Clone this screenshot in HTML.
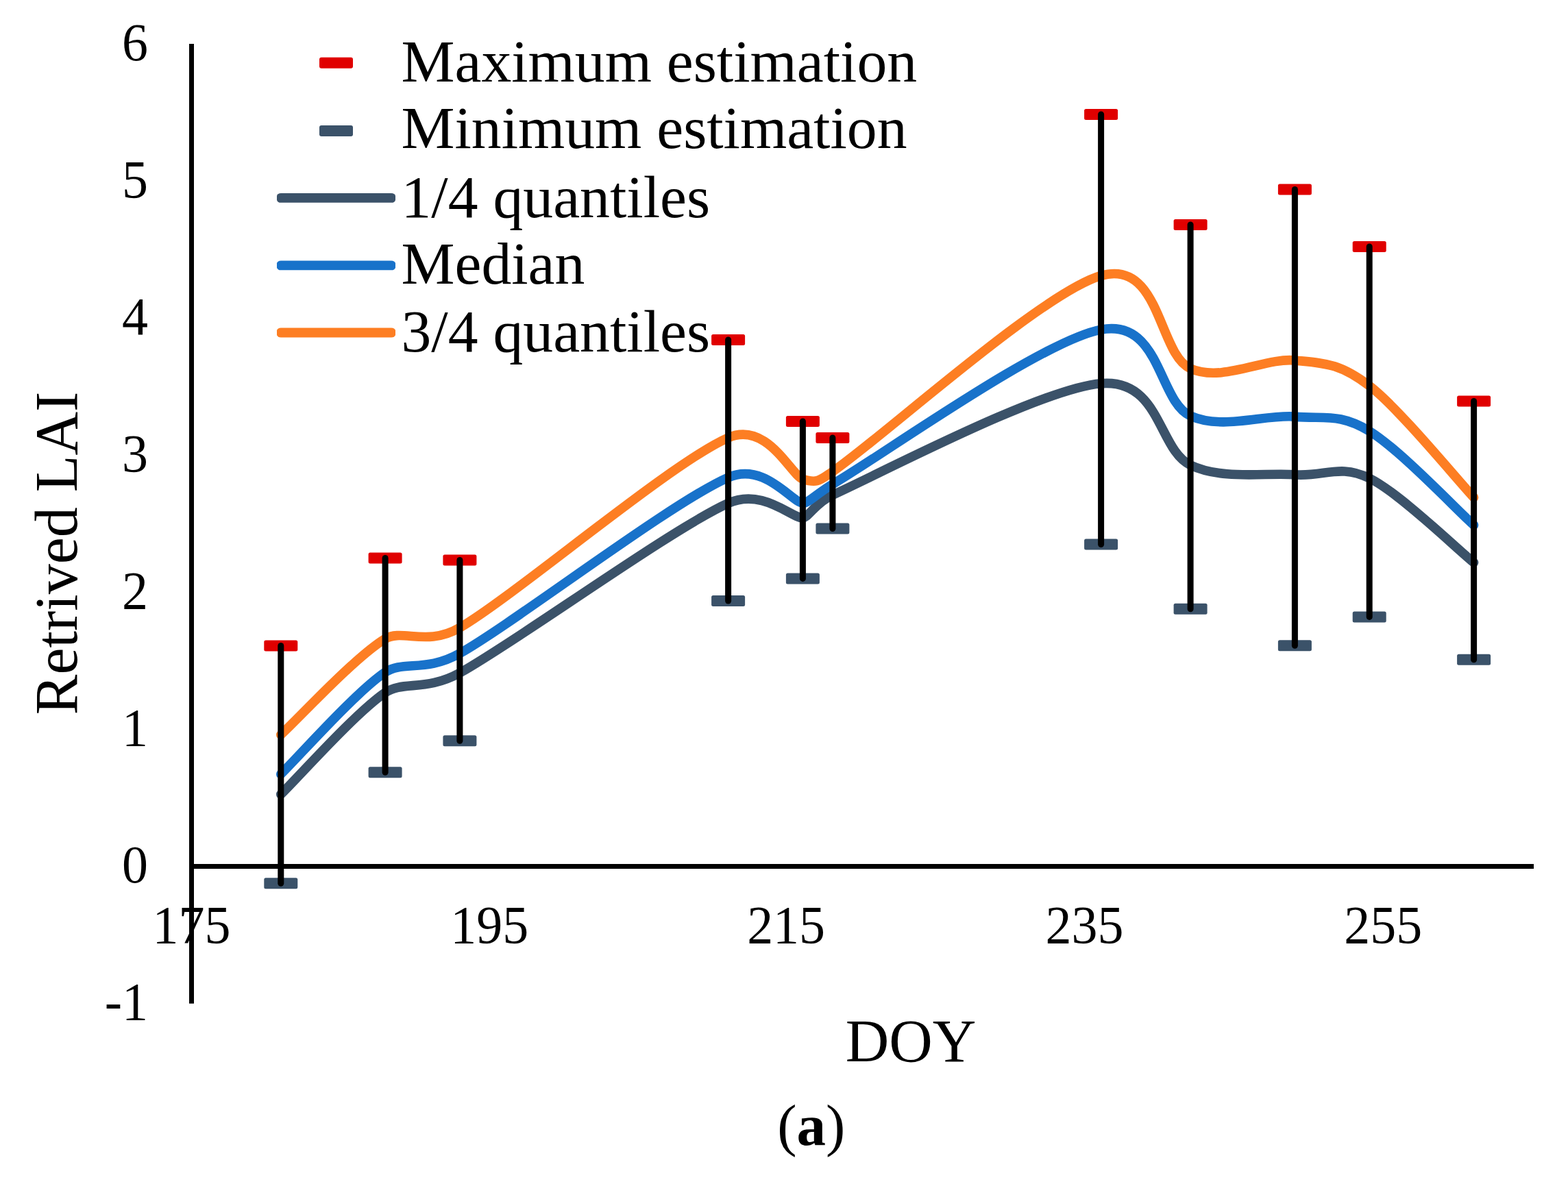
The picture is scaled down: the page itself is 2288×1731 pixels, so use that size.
<!DOCTYPE html><html><head><meta charset="utf-8"><title>Retrived LAI chart</title><style>html,body{margin:0;padding:0;background:#fff;}svg{display:block;}text{font-family:"Liberation Serif","Times New Roman",serif;fill:#000;}</style></head><body>
<svg width="2288" height="1731" viewBox="0 0 2288 1731">
<rect width="2288" height="1731" fill="#fff"/>
<rect x="276" y="64" width="7" height="1400.7" fill="#000"/>
<rect x="276" y="1261" width="1962" height="7" fill="#000"/>
<text transform="translate(216,1488.2) scale(0.980,1)" font-size="77.5" text-anchor="end">-1</text>
<text transform="translate(216,1288.1) scale(0.980,1)" font-size="77.5" text-anchor="end">0</text>
<text transform="translate(216,1088.0) scale(0.980,1)" font-size="77.5" text-anchor="end">1</text>
<text transform="translate(216,887.9) scale(0.980,1)" font-size="77.5" text-anchor="end">2</text>
<text transform="translate(216,687.8) scale(0.980,1)" font-size="77.5" text-anchor="end">3</text>
<text transform="translate(216,487.8) scale(0.980,1)" font-size="77.5" text-anchor="end">4</text>
<text transform="translate(216,287.7) scale(0.980,1)" font-size="77.5" text-anchor="end">5</text>
<text transform="translate(216,87.6) scale(0.980,1)" font-size="77.5" text-anchor="end">6</text>
<text transform="translate(279.5,1376.2) scale(0.980,1)" font-size="77.5" text-anchor="middle">175</text>
<text transform="translate(714.3,1376.2) scale(0.980,1)" font-size="77.5" text-anchor="middle">195</text>
<text transform="translate(1147.1,1376.2) scale(0.980,1)" font-size="77.5" text-anchor="middle">215</text>
<text transform="translate(1582.5,1376.2) scale(0.980,1)" font-size="77.5" text-anchor="middle">235</text>
<text transform="translate(2018.2,1376.2) scale(0.980,1)" font-size="77.5" text-anchor="middle">255</text>
<text x="1329" y="1549" font-size="88.0" text-anchor="middle">DOY</text>
<text transform="translate(111.6,807.4) rotate(-90)" x="0" y="0" font-size="88.0" text-anchor="middle">Retrived LAI</text>
<text x="1183.8" y="1671.3" font-size="85" text-anchor="middle">(<tspan font-weight="bold">a</tspan>)</text>
<path d="M409.76,1159.40 C435.15,1134.65 518.56,1040.45 562.08,1010.90 C587.78,993.45 621.62,1009.31 670.88,982.10 C754.29,936.03 979.15,772.23 1062.56,734.50 C1113.06,711.66 1155.99,756.91 1171.36,755.70 C1180.09,755.01 1189.93,733.74 1214.88,722.50 C1287.41,689.83 1519.52,566.98 1606.56,559.70 C1693.60,552.42 1689.97,656.62 1737.12,678.80 C1784.27,700.98 1845.92,689.60 1889.44,692.80 C1932.96,696.00 1954.72,676.63 1998.24,698.00 C2041.76,719.37 2125.17,800.50 2150.56,821.00" fill="none" stroke="#3B5269" stroke-width="13.6" stroke-linecap="round" stroke-linejoin="round"/>
<path d="M409.76,1129.90 C435.15,1105.12 518.56,1010.57 562.08,981.20 C587.53,964.02 622.09,981.41 670.88,953.70 C754.29,906.32 979.15,733.47 1062.56,696.90 C1115.24,673.80 1155.33,733.26 1171.36,734.30 C1179.15,734.81 1192.63,719.74 1214.88,706.80 C1287.41,664.60 1519.52,497.73 1606.56,481.10 C1693.60,464.47 1689.97,585.83 1737.12,607.00 C1784.27,628.17 1845.92,604.40 1889.44,608.10 C1932.96,611.80 1954.72,602.82 1998.24,629.20 C2041.76,655.58 2125.17,743.53 2150.56,766.40" fill="none" stroke="#1872CA" stroke-width="13.6" stroke-linecap="round" stroke-linejoin="round"/>
<path d="M409.76,1072.40 C435.15,1049.07 518.56,958.43 562.08,932.40 C586.83,917.59 623.44,944.02 670.88,916.20 C754.29,867.28 979.15,675.07 1062.56,638.90 C1119.62,614.16 1153.99,693.57 1171.36,699.20 C1192.70,706.12 1196.35,700.94 1214.88,688.30 C1287.41,638.83 1519.52,427.47 1606.56,402.40 C1693.60,377.33 1689.97,517.30 1737.12,537.90 C1784.27,558.50 1845.92,521.78 1889.44,526.00 C1932.96,530.22 1954.72,529.87 1998.24,563.20 C2041.76,596.53 2125.17,698.87 2150.56,726.00" fill="none" stroke="#FD7E23" stroke-width="13.6" stroke-linecap="round" stroke-linejoin="round"/>
<rect x="385.3" y="934.4" width="49" height="16" rx="2.5" fill="#E00000"/>
<rect x="385.3" y="1281.2" width="49" height="16" rx="2.5" fill="#3B5269"/>
<rect x="537.6" y="806.4" width="49" height="16" rx="2.5" fill="#E00000"/>
<rect x="537.6" y="1119.3" width="49" height="16" rx="2.5" fill="#3B5269"/>
<rect x="646.4" y="809.4" width="49" height="16" rx="2.5" fill="#E00000"/>
<rect x="646.4" y="1073.3" width="49" height="16" rx="2.5" fill="#3B5269"/>
<rect x="1038.1" y="488.0" width="49" height="16" rx="2.5" fill="#E00000"/>
<rect x="1038.1" y="869.0" width="49" height="16" rx="2.5" fill="#3B5269"/>
<rect x="1146.9" y="606.9" width="49" height="16" rx="2.5" fill="#E00000"/>
<rect x="1146.9" y="836.4" width="49" height="16" rx="2.5" fill="#3B5269"/>
<rect x="1190.4" y="630.9" width="49" height="16" rx="2.5" fill="#E00000"/>
<rect x="1190.4" y="763.5" width="49" height="16" rx="2.5" fill="#3B5269"/>
<rect x="1582.1" y="159.0" width="49" height="16" rx="2.5" fill="#E00000"/>
<rect x="1582.1" y="786.5" width="49" height="16" rx="2.5" fill="#3B5269"/>
<rect x="1712.6" y="319.9" width="49" height="16" rx="2.5" fill="#E00000"/>
<rect x="1712.6" y="880.8" width="49" height="16" rx="2.5" fill="#3B5269"/>
<rect x="1864.9" y="268.4" width="49" height="16" rx="2.5" fill="#E00000"/>
<rect x="1864.9" y="934.3" width="49" height="16" rx="2.5" fill="#3B5269"/>
<rect x="1973.7" y="351.9" width="49" height="16" rx="2.5" fill="#E00000"/>
<rect x="1973.7" y="892.4" width="49" height="16" rx="2.5" fill="#3B5269"/>
<rect x="2126.1" y="577.4" width="49" height="16" rx="2.5" fill="#E00000"/>
<rect x="2126.1" y="954.8" width="49" height="16" rx="2.5" fill="#3B5269"/>
<line x1="409.8" y1="942.4" x2="409.8" y2="1289.2" stroke="#000" stroke-width="9" stroke-linecap="round"/>
<line x1="562.1" y1="814.4" x2="562.1" y2="1127.3" stroke="#000" stroke-width="9" stroke-linecap="round"/>
<line x1="670.9" y1="817.4" x2="670.9" y2="1081.3" stroke="#000" stroke-width="9" stroke-linecap="round"/>
<line x1="1062.6" y1="496.0" x2="1062.6" y2="877.0" stroke="#000" stroke-width="9" stroke-linecap="round"/>
<line x1="1171.4" y1="614.9" x2="1171.4" y2="844.4" stroke="#000" stroke-width="9" stroke-linecap="round"/>
<line x1="1214.9" y1="638.9" x2="1214.9" y2="771.5" stroke="#000" stroke-width="9" stroke-linecap="round"/>
<line x1="1606.6" y1="167.0" x2="1606.6" y2="794.5" stroke="#000" stroke-width="9" stroke-linecap="round"/>
<line x1="1737.1" y1="327.9" x2="1737.1" y2="888.8" stroke="#000" stroke-width="9" stroke-linecap="round"/>
<line x1="1889.4" y1="276.4" x2="1889.4" y2="942.3" stroke="#000" stroke-width="9" stroke-linecap="round"/>
<line x1="1998.2" y1="359.9" x2="1998.2" y2="900.4" stroke="#000" stroke-width="9" stroke-linecap="round"/>
<line x1="2150.6" y1="585.4" x2="2150.6" y2="962.8" stroke="#000" stroke-width="9" stroke-linecap="round"/>
<rect x="466" y="83.7" width="49" height="16" rx="3" fill="#E00000"/>
<rect x="466" y="182.9" width="49" height="16" rx="3" fill="#3B5269"/>
<rect x="404" y="282.0" width="173" height="13.8" rx="6" ry="4" fill="#3B5269"/>
<rect x="404" y="380.5" width="173" height="13.8" rx="6" ry="4" fill="#1872CA"/>
<rect x="404" y="478.6" width="173" height="13.8" rx="6" ry="4" fill="#FD7E23"/>
<text x="585.5" y="118.5" font-size="87.7">Maximum estimation</text>
<text x="585.5" y="216.0" font-size="87.7">Minimum estimation</text>
<text x="585.5" y="317.0" font-size="87.7">1/4 quantiles</text>
<text x="585.5" y="414.3" font-size="87.7">Median</text>
<text x="585.5" y="512.8" font-size="87.7">3/4 quantiles</text>
</svg></body></html>
